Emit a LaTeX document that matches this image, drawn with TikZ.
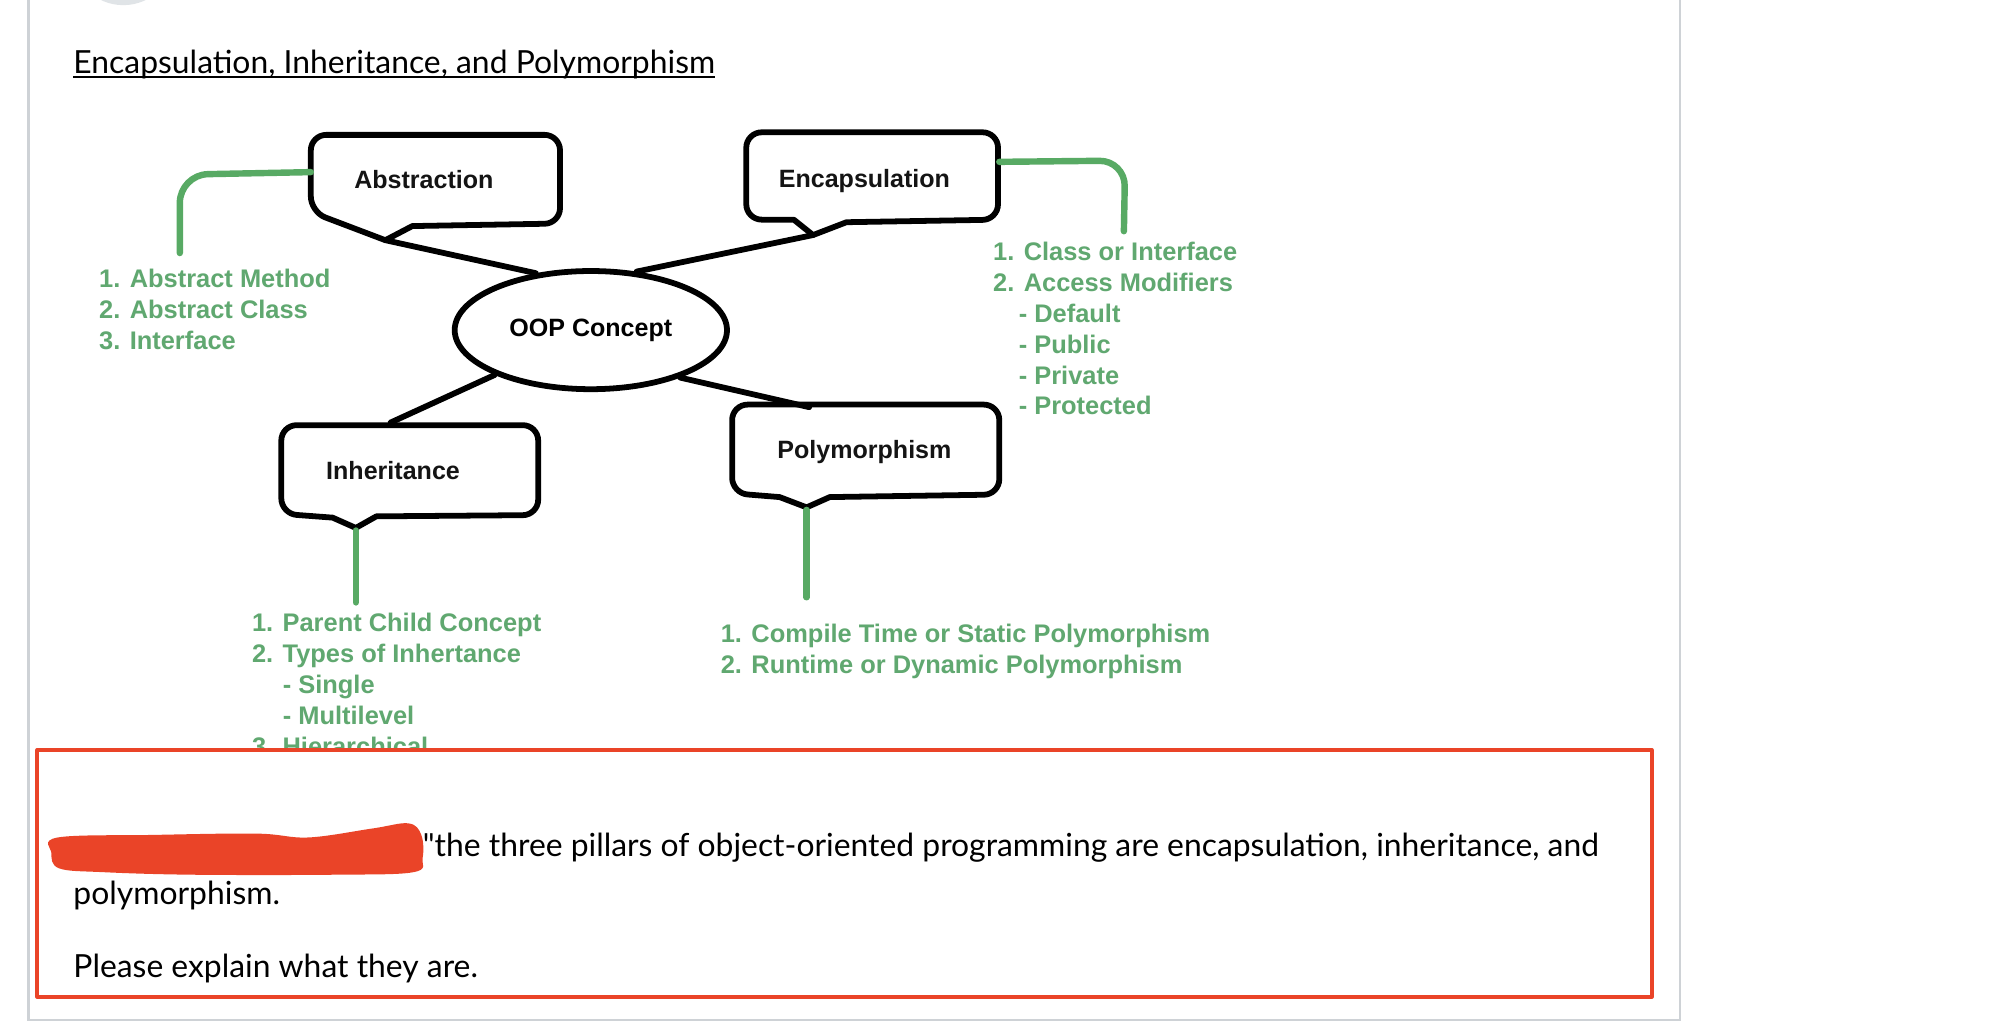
\documentclass[tikz,border=0pt]{standalone}
\usepackage{fontspec}
\setmainfont{Lato}[Ligatures=TeXOff]
\newfontfamily\diagfont{Liberation Sans}
\usetikzlibrary{shapes.geometric}
\definecolor{gtext}{RGB}{96,168,112}
\definecolor{gline}{RGB}{88,170,100}
\definecolor{redc}{RGB}{234,68,40}
\definecolor{grayl}{RGB}{206,210,214}
\definecolor{avat}{RGB}{224,228,231}
\begin{document}
\begin{tikzpicture}[x=1pt,y=1pt, line join=round,
  boxline/.style={line width=4.5pt, black},
  conn/.style={line width=4.5pt, black, line cap=round},
  gconn/.style={line width=5pt, gline, line cap=round},
  blabel/.style={font=\diagfont\bfseries\fontsize{19.5}{24}\selectfont, text=black!92, inner sep=0pt, anchor=base},
  glist/.style={font=\diagfont\bfseries\fontsize{19.8}{24}\selectfont, text=gtext, align=left, inner sep=0pt, anchor=base west},
  lato/.style={font=\fontsize{24.8}{28}\selectfont, inner sep=0pt, anchor=base west}
]
\fill[white] (0,0) rectangle (1568,-796);
\useasboundingbox (0,0) rectangle (1568,-796);
% avatar sliver
\begin{scope}
  \clip (0,0) rectangle (1568,-796);
  \fill[avat] (96,36) circle (40);
\end{scope}
% page frame
\draw[grayl, line width=2pt] (22,0) -- (22,-795);
\draw[grayl, line width=2pt] (1308,0) -- (1308,-795);
\draw[grayl, line width=2pt] (22,-794) -- (1308,-794);

% title
\node[lato] (title) at (57,-57.5) {Encapsulation, Inheritance, and Polymorphism};
\draw[line width=1.3pt] ([yshift=-2.6pt]title.base west) -- ([yshift=-2.6pt]title.base east);

% boxes (callouts)
\draw[boxline] (300,-187) -- (321,-176) [rounded corners=12pt] -- (436,-174) -- (436,-105) -- (242,-105) -- (242,-165) [sharp corners] -- (300,-187) -- cycle;
\draw[boxline] (633,-183) -- (659,-173) [rounded corners=12pt] -- (777,-171) -- (777,-103) -- (581,-103) -- (581,-171) [sharp corners] -- (618,-171) -- cycle;
\draw[boxline] (277,-411) -- (293,-402) [rounded corners=12pt] -- (419,-401) -- (419,-331) -- (219,-331) -- (219,-400) [sharp corners] -- (259,-403) -- cycle;
\draw[boxline] (628,-395) -- (646,-387) [rounded corners=12pt] -- (778,-385) -- (778,-315) -- (570,-315) -- (570,-384) [sharp corners] -- (607,-387) -- cycle;

\node[blabel] (abs) at (330,-147) {Abstraction};
\node[blabel] (enc) at (673,-146) {Encapsulation};
\node[blabel] (inh) at (306,-373) {Inheritance};
\node[blabel] (pol) at (673,-357) {Polymorphism};

\node[ellipse, draw, line width=4.5pt, minimum width=212pt, minimum height=92pt, inner sep=0pt,
      font=\diagfont\bfseries\fontsize{19.5}{24}\selectfont] (oop) at (460,-257) {OOP Concept};

% connection points
\coordinate (abstip) at (300,-187);
\coordinate (enctip) at (633,-183);
\coordinate (inhtop) at (304,-329);
\coordinate (poltop) at (630,-317);
\coordinate (absL) at (242,-134);
\coordinate (absend) at (140,-197);
\coordinate (encR) at (778,-126);
\coordinate (encend) at (875,-180);
\coordinate (inhtip) at (277,-413);
\coordinate (inhend) at (277,-469);
\coordinate (poltip) at (628,-397);
\coordinate (polend) at (628,-465);

% black connectors
\draw[conn] (abstip) -- (oop.134);
\draw[conn] (enctip) -- (oop.52);
\draw[conn] (oop.205) -- (inhtop);
\draw[conn] (oop.332) -- (poltop);

% green connectors
\draw[gconn, rounded corners=22pt] (absL) -- (140,-136) -- (absend);
\draw[gconn, rounded corners=20pt] (encR) -- (876,-125) -- (encend);
\draw[gconn] (inhtip) -- (inhend);
\draw[gconn] (poltip) -- (polend);

% green lists (base = last line)
\node[glist] (absl) at (77,-272) {1. Abstract Method\\2. Abstract Class\\3. Interface};
\node[glist] (encl) at (773,-323) {1. Class or Interface\\2. Access Modifiers\\\hspace*{20pt}- Default\\\hspace*{20pt}- Public\\\hspace*{20pt}- Private\\\hspace*{20pt}- Protected};
\node[glist] (inhl) at (196,-588) {1. Parent Child Concept\\2. Types of Inhertance\\\hspace*{24pt}- Single\\\hspace*{24pt}- Multilevel\\3. Hierarchical};
\node[glist] (poll) at (561,-524) {1. Compile Time or Static Polymorphism\\2. Runtime or Dynamic Polymorphism};

% question box
\fill[white] (29,-584) rectangle (1286,-776);
\draw[redc, line width=3pt] (29,-584) rectangle (1286,-776);
\fill[redc] plot[smooth cycle, tension=0.6] coordinates {(45,-652) (120,-650) (200,-649) (240,-652) (290,-645) (318,-641) (328,-650) (329,-668) (322,-679) (260,-681) (150,-681) (80,-679) (46,-676) (40,-664)};
\node[lato] (q1) at (329,-667) {"the three pillars of object-oriented programming are encapsulation, inheritance, and};
\node[lato] (q2) at (57,-704.5) {polymorphism.};
\node[lato] (q3) at (57,-761) {Please explain what they are.};
\end{tikzpicture}
\end{document}
